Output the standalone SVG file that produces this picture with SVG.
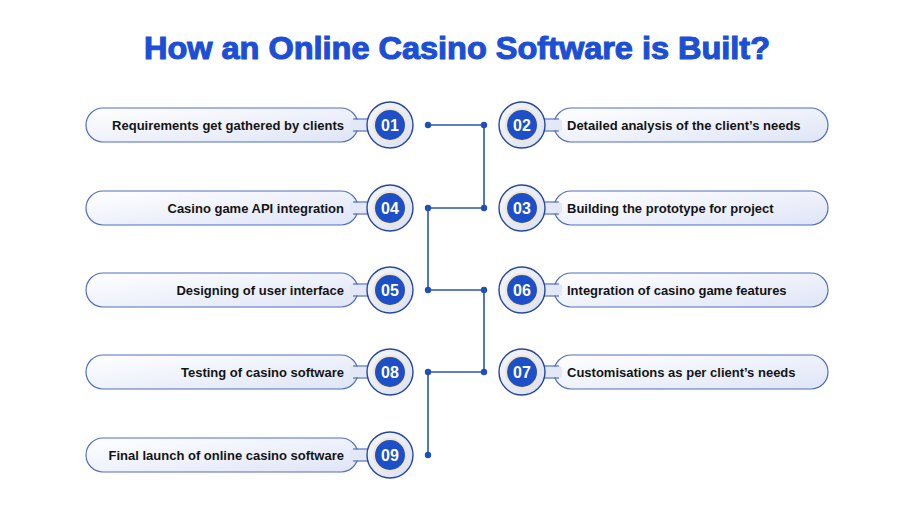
<svg xmlns="http://www.w3.org/2000/svg" width="914" height="521" viewBox="0 0 914 521">
<defs>
<linearGradient id="pg" x1="0" y1="0" x2="1" y2="1">
<stop offset="0" stop-color="#ffffff"/>
<stop offset="1" stop-color="#dfe5f7"/>
</linearGradient>
<linearGradient id="bg" x1="0" y1="0" x2="1" y2="1">
<stop offset="0" stop-color="#f7f8fd"/>
<stop offset="1" stop-color="#d9e0f4"/>
</linearGradient>
<style>
.pill{fill:url(#pg);stroke:#4f6fc0;stroke-width:1.2}
.neck{fill:#e3e8f7}
.neckl{stroke:#4f6fc0;stroke-width:1.2}
.outer{fill:url(#bg);stroke:#27479e;stroke-width:1.4}
.ring{fill:#f2e6c4}
.inner{fill:#1d4fc9}
.num{font-family:"Liberation Sans",Arial,sans-serif;font-weight:700;font-size:16px;fill:#ffffff;text-anchor:middle}
.lbl{font-family:"Liberation Sans",Arial,sans-serif;font-weight:700;font-size:13px;fill:#141414}
.l{text-anchor:end}
.con{stroke:#2a56b6;stroke-width:1.6;fill:none}
.dot{fill:#1f4fb8}
.title{font-family:"Liberation Sans",Arial,sans-serif;font-weight:700;font-size:31px;fill:#1c4fd6;stroke:#1c4fd6;stroke-width:1.1;text-anchor:middle}
</style>
</defs>
<rect width="914" height="521" fill="#ffffff"/>
<text class="title" x="457" y="59" textLength="626" lengthAdjust="spacingAndGlyphs">How an Online Casino Software is Built?</text>

<g id="connectors">
<path class="con" d="M428 125 H484 V208 H428 V290 H484 V372 H428 V455"/>
<circle class="dot" cx="428" cy="125" r="3.2"/>
<circle class="dot" cx="484" cy="125" r="3.2"/>
<circle class="dot" cx="484" cy="208" r="3.2"/>
<circle class="dot" cx="428" cy="208" r="3.2"/>
<circle class="dot" cx="428" cy="290" r="3.2"/>
<circle class="dot" cx="484" cy="290" r="3.2"/>
<circle class="dot" cx="484" cy="372" r="3.2"/>
<circle class="dot" cx="428" cy="372" r="3.2"/>
<circle class="dot" cx="428" cy="455" r="3.2"/>
</g>

<g id="step01">
<rect class="pill" x="86" y="108" width="272" height="34" rx="17"/>
<rect class="neck" x="350" y="119.6" width="22" height="10.8"/>
<line class="neckl" x1="353" y1="119" x2="370" y2="119"/><line class="neckl" x1="353" y1="131" x2="370" y2="131"/>
<circle class="outer" cx="390" cy="125" r="23"/><circle class="ring" cx="390" cy="125" r="17"/><circle class="inner" cx="390" cy="125" r="15"/>
<text class="num" x="390" y="131">01</text>
<text class="lbl l" x="344" y="130">Requirements get gathered by clients</text>
</g>

<g id="step04">
<rect class="pill" x="86" y="191" width="272" height="34" rx="17"/>
<rect class="neck" x="350" y="202.6" width="22" height="10.8"/>
<line class="neckl" x1="353" y1="202" x2="370" y2="202"/><line class="neckl" x1="353" y1="214" x2="370" y2="214"/>
<circle class="outer" cx="390" cy="208" r="23"/><circle class="ring" cx="390" cy="208" r="17"/><circle class="inner" cx="390" cy="208" r="15"/>
<text class="num" x="390" y="214">04</text>
<text class="lbl l" x="344" y="213">Casino game API integration</text>
</g>

<g id="step05">
<rect class="pill" x="86" y="273" width="272" height="34" rx="17"/>
<rect class="neck" x="350" y="284.6" width="22" height="10.8"/>
<line class="neckl" x1="353" y1="284" x2="370" y2="284"/><line class="neckl" x1="353" y1="296" x2="370" y2="296"/>
<circle class="outer" cx="390" cy="290" r="23"/><circle class="ring" cx="390" cy="290" r="17"/><circle class="inner" cx="390" cy="290" r="15"/>
<text class="num" x="390" y="296">05</text>
<text class="lbl l" x="344" y="295">Designing of user interface</text>
</g>

<g id="step08">
<rect class="pill" x="86" y="355" width="272" height="34" rx="17"/>
<rect class="neck" x="350" y="366.6" width="22" height="10.8"/>
<line class="neckl" x1="353" y1="366" x2="370" y2="366"/><line class="neckl" x1="353" y1="378" x2="370" y2="378"/>
<circle class="outer" cx="390" cy="372" r="23"/><circle class="ring" cx="390" cy="372" r="17"/><circle class="inner" cx="390" cy="372" r="15"/>
<text class="num" x="390" y="378">08</text>
<text class="lbl l" x="344" y="377">Testing of casino software</text>
</g>

<g id="step09">
<rect class="pill" x="86" y="438" width="272" height="34" rx="17"/>
<rect class="neck" x="350" y="449.6" width="22" height="10.8"/>
<line class="neckl" x1="353" y1="449" x2="370" y2="449"/><line class="neckl" x1="353" y1="461" x2="370" y2="461"/>
<circle class="outer" cx="390" cy="455" r="23"/><circle class="ring" cx="390" cy="455" r="17"/><circle class="inner" cx="390" cy="455" r="15"/>
<text class="num" x="390" y="461">09</text>
<text class="lbl l" x="344" y="460">Final launch of online casino software</text>
</g>

<g id="step02">
<rect class="pill" x="554" y="108" width="274" height="34" rx="17"/>
<rect class="neck" x="540" y="119.6" width="22" height="10.8"/>
<line class="neckl" x1="542" y1="119" x2="559" y2="119"/><line class="neckl" x1="542" y1="131" x2="559" y2="131"/>
<circle class="outer" cx="522" cy="125" r="23"/><circle class="ring" cx="522" cy="125" r="17"/><circle class="inner" cx="522" cy="125" r="15"/>
<text class="num" x="522" y="131">02</text>
<text class="lbl" x="567" y="130">Detailed analysis of the client’s needs</text>
</g>

<g id="step03">
<rect class="pill" x="554" y="191" width="274" height="34" rx="17"/>
<rect class="neck" x="540" y="202.6" width="22" height="10.8"/>
<line class="neckl" x1="542" y1="202" x2="559" y2="202"/><line class="neckl" x1="542" y1="214" x2="559" y2="214"/>
<circle class="outer" cx="522" cy="208" r="23"/><circle class="ring" cx="522" cy="208" r="17"/><circle class="inner" cx="522" cy="208" r="15"/>
<text class="num" x="522" y="214">03</text>
<text class="lbl" x="567" y="213">Building the prototype for project</text>
</g>

<g id="step06">
<rect class="pill" x="554" y="273" width="274" height="34" rx="17"/>
<rect class="neck" x="540" y="284.6" width="22" height="10.8"/>
<line class="neckl" x1="542" y1="284" x2="559" y2="284"/><line class="neckl" x1="542" y1="296" x2="559" y2="296"/>
<circle class="outer" cx="522" cy="290" r="23"/><circle class="ring" cx="522" cy="290" r="17"/><circle class="inner" cx="522" cy="290" r="15"/>
<text class="num" x="522" y="296">06</text>
<text class="lbl" x="567" y="295">Integration of casino game features</text>
</g>

<g id="step07">
<rect class="pill" x="554" y="355" width="274" height="34" rx="17"/>
<rect class="neck" x="540" y="366.6" width="22" height="10.8"/>
<line class="neckl" x1="542" y1="366" x2="559" y2="366"/><line class="neckl" x1="542" y1="378" x2="559" y2="378"/>
<circle class="outer" cx="522" cy="372" r="23"/><circle class="ring" cx="522" cy="372" r="17"/><circle class="inner" cx="522" cy="372" r="15"/>
<text class="num" x="522" y="378">07</text>
<text class="lbl" x="567" y="377">Customisations as per client’s needs</text>
</g>
</svg>
